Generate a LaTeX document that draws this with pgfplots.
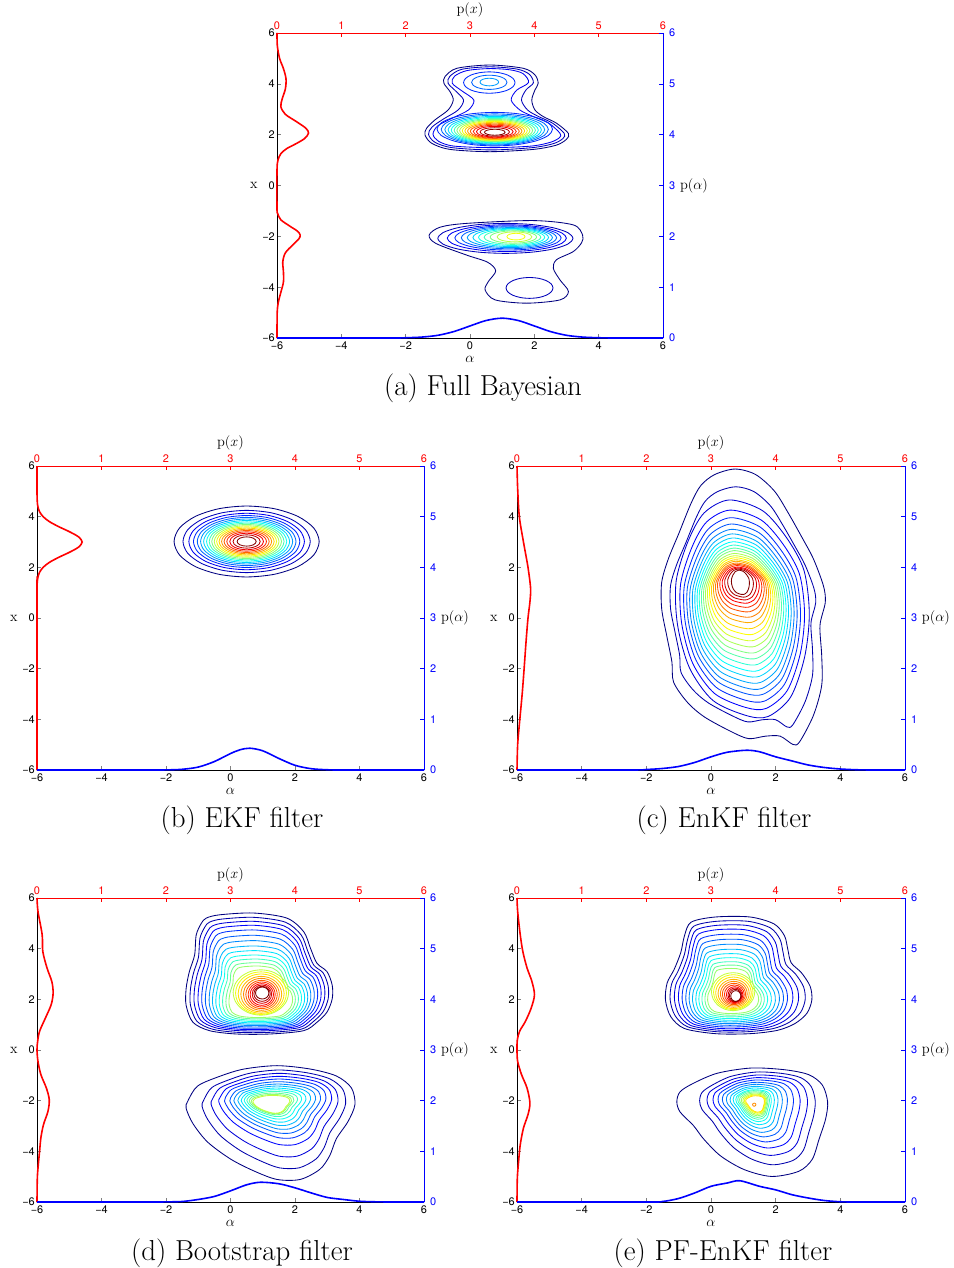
\documentclass[border=0pt]{standalone}
\usepackage{fontspec}
\usepackage{pgfplots}
\usepackage{pgfplotstable}
\pgfplotsset{compat=1.18}
\newfontfamily\heros{TeX Gyre Heros}
\newcommand\tickfont{\heros\fontsize{11}{13}\selectfont}
\newcommand\labfont{\fontsize{14.5}{16}\selectfont}
\newcommand\capfont{\fontsize{29}{33}\selectfont}
\pgfplotsset{colormap/jet}

% unit shapes for the contour levels (u,v in [-1,1])
\pgfplotstableread{
u v
1 0
0.924 0.383
0.707 0.707
0.383 0.924
0 1
-0.383 0.924
-0.707 0.707
-0.924 0.383
-1 0
-0.924 -0.383
-0.707 -0.707
-0.383 -0.924
0 -1
0.383 -0.924
0.707 -0.707
0.924 -0.383
}\ringT
\pgfplotstableread{
u v
-0.35 0.96
-0.10 1.00
0.15 0.96
0.38 0.84
0.55 0.68
0.72 0.50
0.857 0.347
0.978 0.154
1.002 0.033
0.937 -0.136
0.958 -0.354
0.958 -0.571
0.857 -0.789
0.687 -0.982
0.606 -1.000
0.45 -0.94
0.271 -0.94
0.065 -0.958
-0.145 -0.908
-0.477 -0.800
-0.687 -0.692
-0.853 -0.547
-0.873 -0.402
-0.937 -0.209
-0.998 -0.015
-0.998 0.178
-0.917 0.347
-0.79 0.53
-0.64 0.75
-0.52 0.88
}\CT
\pgfplotstableread{
u v
0.92 0.35
0.66 0.65
0.30 0.90
-0.20 1.00
-0.58 0.88
-0.82 0.62
-1.00 0.25
-0.98 -0.15
-0.80 -0.55
-0.45 -0.85
0.05 -0.99
0.38 -1.00
0.72 -0.82
0.93 -0.45
1.00 -0.05
}\CTi
\pgfplotstableread{
u v
-0.724 0.916
-0.542 0.970
-0.080 1.000
0.378 0.916
0.609 0.692
0.702 0.418
0.791 0.169
0.929 0.030
1.000 -0.194
1.000 -0.418
0.929 -0.637
0.791 -0.806
0.609 -0.945
0.147 -1.000
-0.311 -1.000
-0.680 -0.945
-0.907 -0.806
-1.000 -0.527
-1.000 -0.249
-0.956 0.030
-0.884 0.304
-0.862 0.637
-0.791 0.831
}\DT
\pgfplotstableread{
u v
-0.981 0.376
-0.864 0.643
-0.591 0.819
-0.314 0.941
0.076 1.000
0.470 0.941
0.780 0.819
0.958 0.611
1.000 0.317
0.917 0.018
0.780 -0.281
0.701 -0.579
0.583 -0.819
0.352 -0.995
0.076 -0.995
-0.197 -0.846
-0.473 -0.638
-0.746 -0.339
-0.920 -0.014
-1.000 0.253
}\ET
\pgfplotstableread{
u v
-0.648 0.912
-0.315 1.000
0.155 1.000
0.484 0.881
0.626 0.678
0.671 0.449
0.717 0.216
0.858 0.044
0.977 -0.189
1.000 -0.423
0.932 -0.652
0.767 -0.828
0.530 -0.943
0.155 -1.000
-0.315 -1.000
-0.740 -0.912
-0.927 -0.709
-1.000 -0.423
-0.977 -0.132
-0.881 0.101
-0.790 0.392
-0.740 0.678
}\FT
\pgfplotstableread{
u v
-0.956 0.563
-0.778 0.720
-0.460 0.905
-0.011 1.000
0.438 0.967
0.752 0.876
0.930 0.686
1.000 0.378
0.974 0.064
0.887 -0.311
0.795 -0.686
0.617 -0.905
0.259 -1.000
-0.102 -0.876
-0.416 -0.625
-0.643 -0.311
-0.778 -0.064
-0.956 0.188
-1.000 0.378
}\GT

\pgfplotsset{
  every axis/.append style={scale only axis, tick align=inside, major tick length=4bp,
    tick label style={font=\tickfont, inner sep=2bp}, xticklabel shift=1.5bp,
    axis line style={line width=0.7bp},
    tick style={line width=0.6bp}, no markers},
  pbox/.style n args={4}{at={(#1bp,-#2bp)}, anchor=south west, width=#3bp, height=#4bp},
  mainax/.style={xmin=-6, xmax=6, ymin=-6, ymax=6,
    axis x line*=bottom, axis y line*=left,
    xtick={-6,-4,...,6}, ytick={-6,-4,...,6},
    xticklabels={−6,−4,−2,0,2,4,6}, yticklabels={−6,−4,−2,0,2,4,6},
    xlabel={$\alpha$}, ylabel={x},
    every axis x label/.style={at={(ticklabel cs:0.5)}, anchor=north, font=\labfont, inner sep=4bp},
    every axis y label/.style={at={(ticklabel cs:0.5)}, anchor=east, font=\labfont, inner sep=2.5bp}},
  topax/.style={xmin=0, xmax=6, ymin=-6, ymax=6,
    axis x line*=top, axis y line=none, clip=false,
    xtick={0,1,2,3,4,5,6}, xticklabels={0,1,2,3,4,5,6},
    axis line style={red}, tick style={red}, xticklabel style={red},
    xlabel={p$(x)$},
    every axis x label/.style={at={(ticklabel cs:0.5)}, anchor=south, font=\labfont, inner sep=2.5bp}},
  rightax/.style={xmin=-6, xmax=6, ymin=0, ymax=6,
    axis y line*=right, axis x line=none, clip=false,
    ytick={0,1,2,3,4,5,6}, yticklabels={0,1,2,3,4,5,6},
    yticklabel shift=4bp,
    axis line style={blue}, tick style={blue}, yticklabel style={blue},
    ylabel={p$(\alpha)$},
    every axis y label/.style={at={(ticklabel cs:0.5)}, anchor=west, font=\labfont, inner sep=2.5bp}},
  cl/.style={smooth cycle, line width=0.85bp},
  mred/.style={red, line width=1.6bp, smooth},
  mblue/.style={blue, line width=1.6bp, smooth},
}
% one contour level: jet value, centre x, centre y, half width, half height, shape
\newcommand\lev[6]{\addplot[cl, color of colormap={#1 of jet}] table[x expr={#2+#4*\thisrow{u}}, y expr={#3+#5*\thisrow{v}}]{#6};}

\begin{document}
\begin{tikzpicture}
\path[use as bounding box] (0,0) rectangle (954bp,-1268bp);

%% ================= (a) Full Bayesian =================
\begin{axis}[pbox={277}{338}{386}{305}, mainax]
\addplot[cl, color of colormap={0 of jet}] coordinates {(3.06,2.05) (2.69,2.45) (2.28,2.71) (2.02,2.97) (1.92,3.36) (2.02,3.76) (2.12,4.02) (2.02,4.35) (1.66,4.61) (0.62,4.74) (-0.41,4.61) (-0.78,4.28) (-0.81,4.02) (-0.62,3.69) (-0.52,3.36) (-0.68,2.97) (-1.09,2.58) (-1.35,2.25) (-1.40,1.99) (-1.19,1.66) (-0.62,1.42) (0.62,1.33) (1.97,1.42) (2.69,1.59) (3.00,1.82)};
\addplot[cl, color of colormap={56 of jet}] coordinates {(2.93,2.05) (2.57,2.45) (2.12,2.72) (1.79,2.97) (1.60,3.36) (1.74,3.76) (1.97,4.04) (1.84,4.38) (1.46,4.58) (0.61,4.67) (-0.26,4.57) (-0.63,4.29) (-0.68,4.02) (-0.44,3.71) (-0.20,3.36) (-0.37,2.97) (-0.82,2.62) (-1.18,2.30) (-1.29,2.01) (-1.09,1.70) (-0.56,1.49) (0.66,1.40) (1.94,1.49) (2.60,1.65) (2.89,1.85)};
\addplot[cl, color of colormap={111 of jet}] coordinates {(2.80,2.05) (2.45,2.45) (1.95,2.72) (1.55,2.97) (1.28,3.36) (1.45,3.75) (1.82,4.05) (1.65,4.40) (1.25,4.55) (0.60,4.60) (-0.10,4.52) (-0.48,4.30) (-0.55,4.02) (-0.25,3.72) (0.12,3.36) (-0.05,2.97) (-0.55,2.65) (-1.00,2.35) (-1.15,2.02) (-0.98,1.74) (-0.50,1.55) (0.70,1.49) (1.90,1.55) (2.50,1.70) (2.78,1.88)};
\lev{167}{0.60}{4.05}{0.80}{0.42}{\ringT}
\lev{222}{0.60}{4.06}{0.55}{0.28}{\ringT}
\lev{278}{0.60}{4.07}{0.29}{0.15}{\ringT}
\lev{167}{0.77}{2.217}{1.796}{0.660}{\ringT}
\lev{222}{0.77}{2.206}{1.666}{0.612}{\ringT}
\lev{278}{0.77}{2.197}{1.553}{0.571}{\ringT}
\lev{333}{0.77}{2.188}{1.450}{0.533}{\ringT}
\lev{389}{0.77}{2.181}{1.355}{0.498}{\ringT}
\lev{444}{0.77}{2.173}{1.264}{0.464}{\ringT}
\lev{500}{0.77}{2.166}{1.178}{0.433}{\ringT}
\lev{556}{0.77}{2.159}{1.093}{0.401}{\ringT}
\lev{611}{0.77}{2.153}{1.012}{0.372}{\ringT}
\lev{667}{0.77}{2.146}{0.929}{0.341}{\ringT}
\lev{722}{0.77}{2.139}{0.845}{0.311}{\ringT}
\lev{778}{0.77}{2.132}{0.760}{0.279}{\ringT}
\lev{833}{0.77}{2.125}{0.669}{0.246}{\ringT}
\lev{889}{0.77}{2.117}{0.571}{0.210}{\ringT}
\lev{944}{0.77}{2.107}{0.458}{0.168}{\ringT}
\lev{1000}{0.77}{2.096}{0.321}{0.118}{\ringT}
\addplot[cl, color of colormap={0 of jet}] coordinates {(3.50,-1.95) (3.21,-1.55) (1.97,-1.38) (-0.10,-1.49) (-0.93,-1.64) (-1.27,-1.95) (-1.06,-2.28) (-0.10,-2.74) (0.55,-3.02) (0.80,-3.36) (0.57,-3.78) (0.47,-4.11) (0.78,-4.50) (1.76,-4.63) (2.80,-4.50) (3.06,-4.17) (2.80,-3.72) (2.59,-3.26) (2.69,-2.92) (3.21,-2.60) (3.47,-2.25)};
\lev{56}{1.85}{-4.03}{0.73}{0.41}{\ringT}
\lev{56}{1.100}{-2.080}{2.100}{0.590}{\ringT}
\lev{111}{1.145}{-2.071}{1.852}{0.527}{\ringT}
\lev{167}{1.181}{-2.063}{1.653}{0.477}{\ringT}
\lev{222}{1.212}{-2.056}{1.483}{0.434}{\ringT}
\lev{278}{1.240}{-2.050}{1.325}{0.394}{\ringT}
\lev{333}{1.267}{-2.045}{1.176}{0.357}{\ringT}
\lev{389}{1.294}{-2.039}{1.029}{0.320}{\ringT}
\lev{444}{1.321}{-2.034}{0.880}{0.282}{\ringT}
\lev{500}{1.349}{-2.028}{0.722}{0.242}{\ringT}
\lev{556}{1.382}{-2.021}{0.540}{0.196}{\ringT}
\lev{611}{1.429}{-2.011}{0.281}{0.131}{\ringT}
\end{axis}
\begin{axis}[pbox={277}{338}{386}{305}, topax]
\addplot[mred] coordinates {(0,6) (0.005,5.5) (0.04,5.0) (0.10,4.6) (0.14,4.2) (0.13,3.8) (0.08,3.4) (0.06,3.1) (0.13,2.8) (0.31,2.5) (0.45,2.25) (0.49,2.06) (0.43,1.85) (0.30,1.65) (0.15,1.45) (0.06,1.25) (0.015,1.0) (0,0.6) (0,-0.9) (0.01,-1.1) (0.06,-1.35) (0.20,-1.6) (0.32,-1.8) (0.36,-1.95) (0.34,-2.1) (0.24,-2.35) (0.13,-2.65) (0.09,-3.0) (0.10,-3.4) (0.10,-3.8) (0.06,-4.2) (0.02,-4.6) (0.003,-5.0) (0,-6)};
\end{axis}
\begin{axis}[pbox={277}{338}{386}{305}, rightax]
\addplot[mblue] coordinates {(-6,0) (-2.5,0) (-2,0.005) (-1.5,0.018) (-1,0.053) (-0.5,0.127) (0,0.237) (0.5,0.344) (1,0.39) (1.5,0.344) (2,0.237) (2.5,0.127) (3,0.053) (3.5,0.018) (4,0.005) (4.5,0) (6,0)};
\end{axis}
\node[font=\capfont] at (483bp,-388bp) {(a) Full Bayesian};

%% ================= (b) EKF filter =================
\begin{axis}[pbox={37}{770}{387}{304}, mainax]
\lev{0}{0.5}{3.02}{2.250}{1.400}{\ringT}
\lev{56}{0.5}{3.02}{1.973}{1.228}{\ringT}
\lev{111}{0.5}{3.02}{1.791}{1.114}{\ringT}
\lev{167}{0.5}{3.02}{1.649}{1.026}{\ringT}
\lev{222}{0.5}{3.02}{1.530}{0.952}{\ringT}
\lev{278}{0.5}{3.02}{1.427}{0.888}{\ringT}
\lev{333}{0.5}{3.02}{1.332}{0.829}{\ringT}
\lev{389}{0.5}{3.02}{1.244}{0.774}{\ringT}
\lev{444}{0.5}{3.02}{1.161}{0.722}{\ringT}
\lev{500}{0.5}{3.02}{1.082}{0.673}{\ringT}
\lev{556}{0.5}{3.02}{1.004}{0.624}{\ringT}
\lev{611}{0.5}{3.02}{0.929}{0.578}{\ringT}
\lev{667}{0.5}{3.02}{0.853}{0.531}{\ringT}
\lev{722}{0.5}{3.02}{0.776}{0.483}{\ringT}
\lev{778}{0.5}{3.02}{0.698}{0.434}{\ringT}
\lev{833}{0.5}{3.02}{0.614}{0.382}{\ringT}
\lev{889}{0.5}{3.02}{0.524}{0.326}{\ringT}
\lev{944}{0.5}{3.02}{0.421}{0.262}{\ringT}
\lev{1000}{0.5}{3.02}{0.295}{0.183}{\ringT}
\end{axis}
\begin{axis}[pbox={37}{770}{387}{304}, topax]
\addplot[mred] coordinates {(0,6) (0,5) (0.004,4.6) (0.014,4.4) (0.039,4.2) (0.095,4.0) (0.195,3.8) (0.341,3.6) (0.508,3.4) (0.646,3.2) (0.70,3.0) (0.646,2.8) (0.508,2.6) (0.341,2.4) (0.195,2.2) (0.095,2.0) (0.039,1.8) (0.014,1.6) (0.004,1.4) (0,1.0) (0,-6)};
\end{axis}
\begin{axis}[pbox={37}{770}{387}{304}, rightax]
\addplot[mblue] coordinates {(-6,0) (-2.5,0) (-2,0.002) (-1.5,0.014) (-1,0.058) (-0.5,0.167) (0,0.325) (0.3,0.40) (0.6,0.43) (1,0.379) (1.5,0.228) (2,0.093) (2.5,0.026) (3,0.005) (3.5,0) (6,0)};
\end{axis}
\node[font=\capfont] at (242bp,-820bp) {(b) EKF filter};

%% ================= (c) EnKF filter =================
\begin{axis}[pbox={517}{770}{388}{304}, mainax]
\lev{0}{1.000}{0.445}{2.530}{5.435}{\CT}
\lev{42}{0.989}{0.440}{2.244}{4.740}{\CT}
\lev{83}{0.981}{0.385}{2.059}{4.275}{\CTi}
\lev{125}{0.976}{0.345}{1.918}{3.915}{\CTi}
\lev{167}{0.971}{0.340}{1.799}{3.620}{\CTi}
\lev{208}{0.967}{0.350}{1.698}{3.360}{\CTi}
\lev{250}{0.964}{0.360}{1.607}{3.140}{\CTi}
\lev{292}{0.960}{0.390}{1.521}{2.930}{\CTi}
\lev{333}{0.957}{0.430}{1.442}{2.730}{\CTi}
\lev{375}{0.954}{0.470}{1.369}{2.540}{\CTi}
\lev{417}{0.951}{0.525}{1.300}{2.355}{\CTi}
\lev{458}{0.949}{0.585}{1.232}{2.175}{\CTi}
\lev{500}{0.946}{0.650}{1.166}{2.010}{\CTi}
\lev{542}{0.944}{0.715}{1.103}{1.835}{\CTi}
\lev{583}{0.941}{0.790}{1.040}{1.670}{\CTi}
\lev{625}{0.939}{0.870}{0.977}{1.510}{\CTi}
\lev{667}{0.936}{0.945}{0.913}{1.355}{\CTi}
\lev{708}{0.934}{1.035}{0.850}{1.205}{\CTi}
\lev{750}{0.931}{1.105}{0.784}{1.065}{\CTi}
\lev{792}{0.928}{1.185}{0.719}{0.935}{\CTi}
\lev{833}{0.926}{1.250}{0.648}{0.820}{\CTi}
\lev{875}{0.923}{1.300}{0.572}{0.710}{\CTi}
\lev{917}{0.919}{1.345}{0.491}{0.625}{\CTi}
\lev{958}{0.916}{1.380}{0.397}{0.550}{\CTi}
\lev{1000}{0.911}{1.410}{0.278}{0.480}{\CTi}
\end{axis}
\begin{axis}[pbox={517}{770}{388}{304}, topax]
\addplot[mred] coordinates {(0,6) (0.01,5.12) (0.036,4.0) (0.10,3.0) (0.17,2.0) (0.21,1.17) (0.20,0.64) (0.17,0.0) (0.14,-0.93) (0.11,-2.0) (0.08,-3.0) (0.04,-4.1) (0.01,-5.0) (0,-6)};
\end{axis}
\begin{axis}[pbox={517}{770}{388}{304}, rightax]
\addplot[mblue] coordinates {(-6,0) (-2.5,0) (-2,0.01) (-1.5,0.03) (-1,0.07) (-0.5,0.15) (0,0.26) (0.5,0.35) (1.1,0.39) (1.5,0.36) (2,0.26) (2.5,0.18) (3,0.10) (3.5,0.05) (4,0.02) (4.5,0.005) (5,0) (6,0)};
\end{axis}
\node[font=\capfont] at (724bp,-820bp) {(c) EnKF filter};

%% ================= (d) Bootstrap filter =================
\begin{axis}[pbox={37}{1202}{387}{304}, mainax]
\lev{0}{0.889}{3.020}{2.265}{2.388}{\DT}
\lev{43}{0.893}{2.967}{2.135}{2.270}{\DT}
\lev{87}{0.897}{2.921}{2.015}{2.158}{\DT}
\lev{130}{0.901}{2.869}{1.895}{2.053}{\DT}
\lev{174}{0.905}{2.803}{1.785}{1.935}{\DT}
\lev{217}{0.909}{2.724}{1.676}{1.803}{\DT}
\lev{261}{0.914}{2.645}{1.565}{1.671}{\DT}
\lev{304}{0.918}{2.566}{1.466}{1.540}{\DT}
\lev{348}{0.922}{2.500}{1.367}{1.421}{\DT}
\lev{391}{0.926}{2.441}{1.267}{1.309}{\DT}
\lev{435}{0.930}{2.388}{1.168}{1.204}{\DT}
\lev{478}{0.934}{2.342}{1.069}{1.105}{\DT}
\lev{522}{0.938}{2.303}{0.980}{1.014}{\DT}
\lev{565}{0.942}{2.270}{0.860}{0.895}{\ringT}
\lev{609}{0.946}{2.244}{0.790}{0.840}{\ringT}
\lev{652}{0.950}{2.224}{0.713}{0.777}{\ringT}
\lev{696}{0.954}{2.204}{0.634}{0.704}{\ringT}
\lev{739}{0.959}{2.198}{0.556}{0.632}{\ringT}
\lev{783}{0.963}{2.191}{0.487}{0.559}{\ringT}
\lev{826}{0.967}{2.191}{0.419}{0.494}{\ringT}
\lev{870}{0.971}{2.191}{0.361}{0.428}{\ringT}
\lev{913}{0.975}{2.204}{0.302}{0.362}{\ringT}
\lev{957}{0.979}{2.217}{0.254}{0.296}{\ringT}
\lev{1000}{0.983}{2.250}{0.207}{0.237}{\ringT}
\lev{0}{1.241}{-2.869}{2.617}{2.251}{\ET}
\lev{43}{1.345}{-2.725}{2.225}{1.936}{\ET}
\lev{87}{1.366}{-2.561}{1.966}{1.640}{\ET}
\lev{130}{1.386}{-2.390}{1.748}{1.351}{\ET}
\lev{174}{1.386}{-2.308}{1.572}{1.163}{\ET}
\lev{217}{1.386}{-2.265}{1.407}{1.015}{\ET}
\lev{261}{1.371}{-2.231}{1.268}{0.889}{\ET}
\lev{304}{1.356}{-2.196}{1.128}{0.775}{\ET}
\lev{348}{1.335}{-2.170}{1.004}{0.670}{\ET}
\lev{391}{1.314}{-2.143}{0.890}{0.577}{\ET}
\lev{435}{1.293}{-2.126}{0.786}{0.494}{\ET}
\lev{478}{1.272}{-2.124}{0.693}{0.427}{\ET}
\lev{522}{1.267}{-2.130}{0.626}{0.380}{\ET}
\lev{565}{1.267}{-2.140}{0.574}{0.351}{\ET}
\end{axis}
\begin{axis}[pbox={37}{1202}{387}{304}, topax]
\addplot[mred] coordinates {(0,6) (0.015,5.47) (0.08,4.55) (0.09,3.89) (0.155,3.24) (0.23,2.7) (0.25,2.25) (0.22,1.79) (0.13,1.26) (0.04,0.74) (0.01,0.34) (0,0) (0.015,-0.45) (0.06,-0.97) (0.145,-1.5) (0.19,-1.96) (0.17,-2.42) (0.10,-2.95) (0.06,-3.47) (0.04,-4.0) (0.02,-4.53) (0.005,-5.05) (0,-6)};
\end{axis}
\begin{axis}[pbox={37}{1202}{387}{304}, rightax]
\addplot[mblue] coordinates {(-6,0) (-2.5,0) (-2,0.003) (-1.5,0.01) (-1,0.05) (-0.5,0.11) (0,0.22) (0.5,0.34) (0.93,0.39) (1.5,0.36) (2,0.28) (2.5,0.18) (3,0.09) (3.5,0.05) (4,0.015) (4.5,0.004) (5,0) (6,0)};
\end{axis}
\node[font=\capfont] at (242bp,-1253bp) {(d) Bootstrap filter};

%% ================= (e) PF-EnKF filter =================
\begin{axis}[pbox={517}{1202}{388}{304}, mainax]
\lev{0}{0.855}{2.948}{2.264}{2.303}{\FT}
\lev{43}{0.824}{2.902}{2.088}{2.178}{\FT}
\lev{87}{0.788}{2.855}{1.918}{2.066}{\FT}
\lev{130}{0.762}{2.803}{1.767}{1.948}{\FT}
\lev{174}{0.736}{2.737}{1.627}{1.816}{\FT}
\lev{217}{0.731}{2.671}{1.508}{1.684}{\FT}
\lev{261}{0.720}{2.606}{1.394}{1.553}{\FT}
\lev{304}{0.710}{2.540}{1.280}{1.422}{\FT}
\lev{348}{0.700}{2.487}{1.166}{1.303}{\FT}
\lev{391}{0.689}{2.441}{1.062}{1.191}{\FT}
\lev{435}{0.684}{2.395}{0.964}{1.079}{\FT}
\lev{478}{0.684}{2.362}{0.871}{0.980}{\FT}
\lev{522}{0.684}{2.329}{0.788}{0.882}{\FT}
\lev{565}{0.684}{2.303}{0.670}{0.750}{\ringT}
\lev{609}{0.689}{2.283}{0.610}{0.690}{\ringT}
\lev{652}{0.695}{2.257}{0.550}{0.625}{\ringT}
\lev{696}{0.700}{2.237}{0.482}{0.553}{\ringT}
\lev{739}{0.705}{2.224}{0.415}{0.487}{\ringT}
\lev{783}{0.710}{2.211}{0.358}{0.422}{\ringT}
\lev{826}{0.721}{2.198}{0.306}{0.369}{\ringT}
\lev{870}{0.731}{2.184}{0.254}{0.316}{\ringT}
\lev{913}{0.741}{2.171}{0.213}{0.276}{\ringT}
\lev{957}{0.752}{2.152}{0.182}{0.244}{\ringT}
\lev{1000}{0.767}{2.132}{0.156}{0.211}{\ringT}
\lev{0}{1.275}{-2.851}{2.332}{2.140}{\GT}
\lev{43}{1.436}{-2.699}{1.788}{1.831}{\GT}
\lev{87}{1.430}{-2.574}{1.554}{1.587}{\GT}
\lev{130}{1.409}{-2.481}{1.347}{1.389}{\GT}
\lev{174}{1.384}{-2.407}{1.166}{1.223}{\GT}
\lev{217}{1.358}{-2.353}{1.006}{1.077}{\GT}
\lev{261}{1.342}{-2.303}{0.865}{0.948}{\GT}
\lev{304}{1.332}{-2.262}{0.741}{0.828}{\GT}
\lev{348}{1.322}{-2.225}{0.638}{0.725}{\GT}
\lev{391}{1.316}{-2.198}{0.549}{0.632}{\GT}
\lev{435}{1.316}{-2.169}{0.490}{0.565}{\GT}
\lev{478}{1.322}{-2.156}{0.440}{0.505}{\GT}
\lev{522}{1.332}{-2.146}{0.395}{0.450}{\GT}
\lev{565}{1.342}{-2.140}{0.355}{0.400}{\GT}
\lev{609}{1.353}{-2.133}{0.320}{0.360}{\GT}
\lev{652}{1.363}{-2.132}{0.290}{0.325}{\GT}
\lev{739}{1.337}{-2.158}{0.050}{0.060}{\ringT}
\end{axis}
\begin{axis}[pbox={517}{1202}{388}{304}, topax]
\addplot[mred] coordinates {(0,6) (0.01,5.47) (0.05,4.55) (0.09,3.89) (0.155,3.24) (0.23,2.71) (0.27,2.18) (0.22,1.66) (0.13,1.13) (0.04,0.74) (0.005,0.4) (0,0) (0.01,-0.45) (0.07,-0.97) (0.155,-1.5) (0.20,-2.09) (0.17,-2.55) (0.10,-3.08) (0.05,-3.74) (0.025,-4.39) (0.005,-5.05) (0,-6)};
\end{axis}
\begin{axis}[pbox={517}{1202}{388}{304}, rightax]
\addplot[mblue] coordinates {(-6,0) (-2,0) (-1.5,0.01) (-1,0.07) (-0.5,0.18) (0,0.31) (0.5,0.375) (0.89,0.42) (1.5,0.31) (2,0.24) (2.5,0.145) (3,0.08) (3.5,0.03) (4,0.005) (4.5,0) (6,0)};
\end{axis}
\node[font=\capfont] at (723bp,-1253bp) {(e) PF-EnKF filter};

\end{tikzpicture}
\end{document}
